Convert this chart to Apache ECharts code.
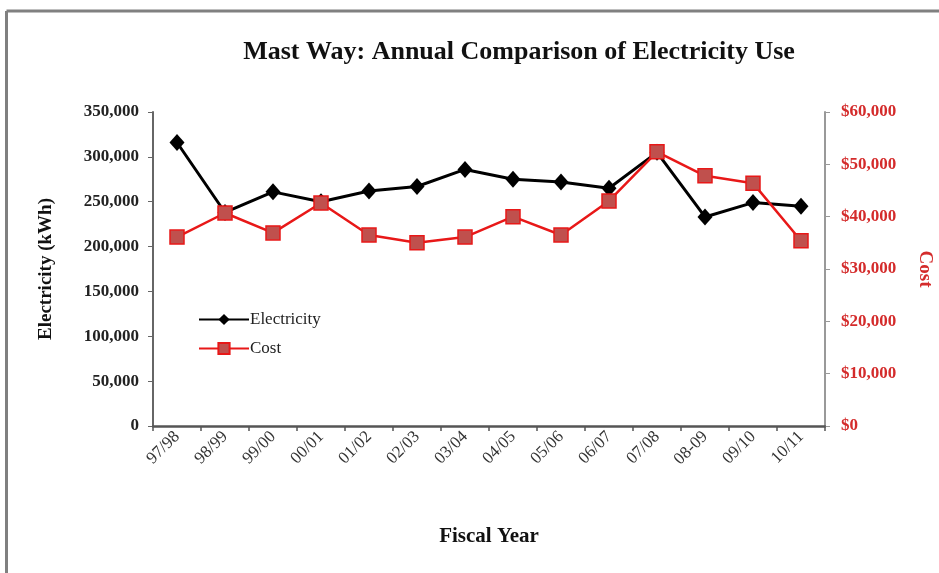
<!DOCTYPE html>
<html>
<head>
<meta charset="utf-8">
<script src="https://cdn.jsdelivr.net/npm/echarts@6/dist/echarts.min.js"></script>
<style>
html,body{margin:0;padding:0;background:#fff;}
#c{width:939px;height:573px;}
</style>
</head>
<body>
<div id="c"></div>
<script>
const categories = ['97/98','98/99','99/00','00/01','01/02','02/03','03/04','04/05','05/06','06/07','07/08','08-09','09/10','10/11'];
const electricity = [316000,238000,261000,250000,262000,267000,286000,275000,272000,265000,305000,233000,249000,245000];
const cost = [36100,40700,36900,42600,36500,35000,36100,40000,36500,43000,52400,47800,46400,35400];
const leftTicks = [0,50000,100000,150000,200000,250000,300000,350000];
const rightTicks = [0,10000,20000,30000,40000,50000,60000];

const serif = '"Liberation Serif", "Times New Roman", serif';
const red = '#d42b2b';
const fmt = v => v.toString().replace(/\B(?=(\d{3})+(?!\d))/g, ',');

const chart = echarts.init(document.getElementById('c'), null, {renderer:'canvas'});
chart.setOption({
  backgroundColor:'#fff',
  animation:false,
  graphic:[
    {type:'line', shape:{x1:6.5,y1:11,x2:939,y2:11}, style:{stroke:'#808080', lineWidth:3}},
    {type:'line', shape:{x1:6.5,y1:11,x2:6.5,y2:573}, style:{stroke:'#808080', lineWidth:3}}
  ],
  title:{
    text:'Mast Way: Annual Comparison of Electricity Use',
    left:514, top:34, textAlign:'center',
    textStyle:{fontFamily:serif, fontWeight:'bold', fontSize:26, color:'#111'}
  },
  legend:{
    orient:'vertical', left:193, top:306, itemGap:12,
    itemWidth:50, itemHeight:14,
    textStyle:{fontFamily:serif, fontSize:17, color:'#222', padding:[0,0,0,-4]},
    data:['Electricity','Cost']
  },
  grid:{left:153, right:114, top:112, bottom:147, containLabel:false, outerBoundsMode:'none'},
  xAxis:{
    type:'category', data:categories, boundaryGap:true,
    name:'Fiscal Year', nameLocation:'middle', nameGap:100,
    nameTextStyle:{fontFamily:serif, fontWeight:'bold', fontSize:21, color:'#111'},
    axisLine:{lineStyle:{color:'#555', width:2.5}},
    axisTick:{show:true, length:5, lineStyle:{color:'#555', width:1.5}},
    axisLabel:{rotate:45, fontFamily:serif, fontSize:17, color:'#333', margin:8, interval:0}
  },
  yAxis:[
    {
      type:'value', min:0, max:350000, interval:50000, position:'left',
      name:'Electricity (kWh)', nameLocation:'middle', nameGap:97, nameRotate:90,
      nameTextStyle:{fontFamily:serif, fontWeight:'bold', fontSize:19, color:'#111'},
      axisLine:{show:true, lineStyle:{color:'#666', width:2}},
      axisTick:{show:true, length:5, lineStyle:{color:'#666'}},
      splitLine:{show:false},
      axisLabel:{fontFamily:serif, fontWeight:'bold', fontSize:17, color:'#222', margin:14,
        formatter:v => fmt(v)}
    },
    {
      type:'value', min:0, max:60000, interval:10000, position:'right',
      name:'Cost', nameLocation:'middle', nameGap:90, nameRotate:-90,
      nameTextStyle:{fontFamily:serif, fontWeight:'bold', fontSize:19, color:red},
      axisLine:{show:true, lineStyle:{color:'#999', width:2}},
      axisTick:{show:true, length:5, lineStyle:{color:'#999'}},
      splitLine:{show:false},
      axisLabel:{fontFamily:serif, fontWeight:'bold', fontSize:17, color:red, margin:16,
        formatter:v => '$' + fmt(v)}
    }
  ],
  series:[
    {
      name:'Electricity', type:'line', yAxisIndex:0, data:electricity,
      symbol:'diamond', symbolSize:[15,17],
      lineStyle:{color:'#000', width:3},
      itemStyle:{color:'#000'}
    },
    {
      name:'Cost', type:'line', yAxisIndex:1, data:cost,
      symbol:'rect', symbolSize:14,
      lineStyle:{color:'#e81818', width:2.5},
      itemStyle:{color:'#c0504d', borderColor:'#e81818', borderWidth:1.5}
    }
  ]
});
</script>
</body>
</html>
